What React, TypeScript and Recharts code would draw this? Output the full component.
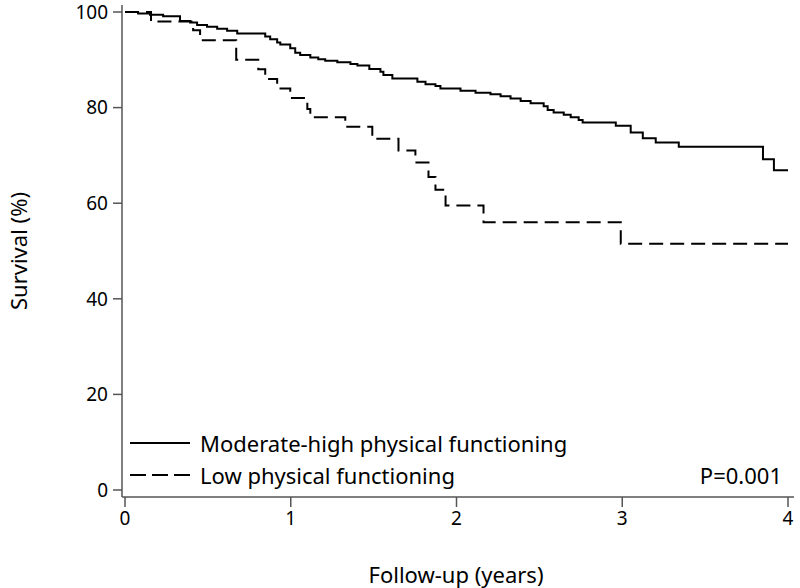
import { LineChart, Line, XAxis, YAxis, Legend } from 'recharts';

// Kaplan-Meier steps: time (years) and survival (%)
const highTime = [0, 0.079, 0.151, 0.23, 0.332, 0.393, 0.435, 0.495, 0.556, 0.616, 0.677, 0.846, 0.876, 0.918, 0.937, 0.997, 1.027, 1.057, 1.118, 1.166, 1.208, 1.281, 1.36, 1.402, 1.474, 1.541, 1.559, 1.613, 1.764, 1.813, 1.873, 1.903, 2.024, 2.115, 2.205, 2.266, 2.326, 2.387, 2.447, 2.526, 2.55, 2.586, 2.647, 2.689, 2.737, 2.761, 2.961, 3.051, 3.124, 3.202, 3.341, 3.849, 3.915, 4.0];
const highSurv = [100, 99.7, 99.4, 99.1, 98.1, 97.8, 97.3, 96.9, 96.5, 96.1, 95.5, 94.9, 94.3, 93.6, 93.2, 92.4, 91.5, 91.0, 90.5, 90.1, 89.8, 89.5, 89.1, 88.8, 88.1, 87.5, 86.8, 86.1, 85.4, 84.9, 84.5, 84.0, 83.5, 83.1, 82.8, 82.4, 81.9, 81.4, 80.9, 80.3, 79.5, 79.0, 78.5, 78.0, 77.4, 76.9, 76.2, 74.8, 73.6, 72.7, 71.8, 69.2, 66.9, 66.9];

const lowTime = [0, 0.157, 0.411, 0.453, 0.671, 0.804, 0.846, 0.918, 0.997, 1.1, 1.118, 1.329, 1.492, 1.65, 1.752, 1.831, 1.873, 1.934, 2.163, 2.991, 4.0];
const lowSurv = [100, 98, 96.2, 94.1, 90, 88, 86, 84, 82, 79.7, 78, 76, 73.5, 71, 68.5, 65.5, 62.8, 59.5, 56, 51.5, 51.5];

const xTicks = [0, 1, 2, 3, 4];
const yTicks = [0, 20, 40, 60, 80, 100];

const seriesNames = ['Moderate-high physical functioning', 'Low physical functioning'];
const pValue = 'P=0.001';

const highData = highTime.map((t, i) => ({ t, s: highSurv[i] }));
const lowData = lowTime.map((t, i) => ({ t, s: lowSurv[i] }));

const font = "'Noto Sans', sans-serif";
const tickStyle = { fill: '#000', fontSize: 19, fontFamily: font };

function KMLegend() {
  return (
    <div style={{ fontFamily: font, fontSize: 22, color: '#000', position: 'relative', width: 652, height: 64 }}>
      <svg width={70} height={64} style={{ position: 'absolute', left: 0, top: 0 }}>
        <line x1={0} x2={60} y1={13} y2={13} stroke="#000" strokeWidth={2} />
        <line x1={0} x2={60} y1={45} y2={45} stroke="#000" strokeWidth={2} strokeDasharray="16 6" />
      </svg>
      <div style={{ position: 'absolute', left: 70, top: -2, lineHeight: '30px', whiteSpace: 'nowrap' }}>{seriesNames[0]}</div>
      <div style={{ position: 'absolute', left: 70, top: 30, lineHeight: '30px', whiteSpace: 'nowrap' }}>{seriesNames[1]}</div>
      <div style={{ position: 'absolute', right: 0, top: 30, lineHeight: '30px' }}>{pValue}</div>
    </div>
  );
}

export default function App() {
  return (
    <div style={{ position: 'absolute', left: 0, top: 0, background: '#fff' }}>
      <LineChart width={800} height={588} margin={{ top: 5, right: 6, bottom: 0, left: 0 }}>
        <XAxis
          dataKey="t"
          type="number"
          domain={[0, 4]}
          ticks={xTicks}
          padding={{ left: 3, right: 6 }}
          height={91}
          stroke="#555"
          axisLine={{ stroke: '#555', strokeWidth: 1.5 }}
          tickLine={{ stroke: '#555', strokeWidth: 1.5 }}
          tickSize={10}
          tickMargin={5}
          tick={tickStyle}
          allowDataOverflow
          label={{
            content: () => (
              <text x={456} y={583} textAnchor="middle" fontFamily={font} fontSize={22} fill="#000">
                Follow-up (years)
              </text>
            ),
          }}
        />
        <XAxis xAxisId="top" orientation="top" type="number" domain={[0, 4]} height={0} tick={false} tickLine={false} axisLine={{ stroke: '#555', strokeWidth: 1.5 }} />
        <YAxis
          type="number"
          domain={[0, 100]}
          ticks={yTicks}
          padding={{ top: 7, bottom: 7 }}
          width={122}
          axisLine={{ stroke: '#555', strokeWidth: 1.5 }}
          tickLine={{ stroke: '#555', strokeWidth: 1.5 }}
          tickSize={9}
          tickMargin={5}
          tick={tickStyle}
          label={{
            content: () => (
              <text x={18} y={251} transform="rotate(-90 18 251)" textAnchor="middle" dominantBaseline="central" fontFamily={font} fontSize={22} fill="#000">
                Survival (%)
              </text>
            ),
          }}
        />
        <YAxis yAxisId="right" orientation="right" type="number" domain={[0, 100]} width={0} tick={false} tickLine={false} axisLine={{ stroke: '#555', strokeWidth: 1.5 }} />
        <Legend
          layout="horizontal"
          verticalAlign="middle"
          align="center"
          content={() => <KMLegend />}
          wrapperStyle={{ left: 130, top: 430, width: 652, height: 64 }}
        />
        <Line
          data={highData}
          dataKey="s"
          name={seriesNames[0]}
          type="stepAfter"
          stroke="#000"
          strokeWidth={2}
          dot={false}
          activeDot={false}
          isAnimationActive={false}
        />
        <Line
          data={lowData}
          dataKey="s"
          name={seriesNames[1]}
          type="stepAfter"
          stroke="#000"
          strokeWidth={2}
          strokeDasharray="14 7"
          dot={false}
          activeDot={false}
          isAnimationActive={false}
        />
      </LineChart>
    </div>
  );
}
